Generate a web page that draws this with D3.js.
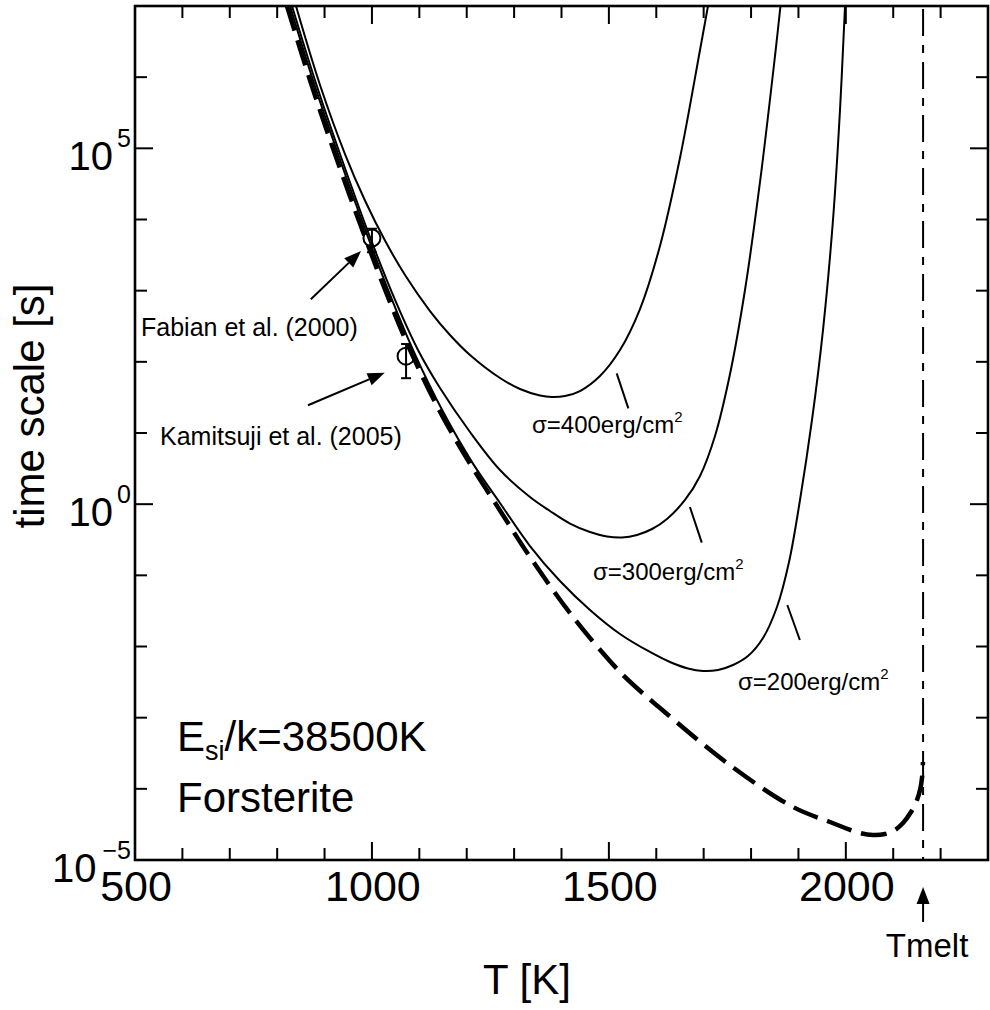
<!DOCTYPE html>
<html><head><meta charset="utf-8">
<script src="https://cdn.jsdelivr.net/npm/d3@7"></script>
<style>
body{margin:0;background:#fff}
svg text{font-family:"Liberation Sans",Arial,Helvetica,sans-serif;fill:#000}
</style>
</head><body>
<svg id="chart" width="990" height="1010"></svg>
<script>
// ---------- data (T in K, time scale as log10 seconds) ----------
const noNuclT   = [820.7,869.3,922.0,985.3,1038.1,1082.4,1143.6,1206.9,1270.2,1333.5,1424.3,1523.4,1580.4,1607.8,1749.2,1888.5,1966.6,2029.9,2057.4,2082.6,2103.7,2120.6,2137.5,2150.2,2157.5,2160.7,2162.8];
const noNuclLog = [7.0,5.957,4.92,3.751,2.838,2.137,1.301,0.57,-0.088,-0.742,-1.585,-2.358,-2.71,-2.864,-3.637,-4.255,-4.466,-4.621,-4.649,-4.635,-4.578,-4.48,-4.326,-4.157,-3.988,-3.848,-3.623];

const sigma200T   = [827.1,875.6,928.4,991.7,1044.4,1088.7,1149.9,1213.2,1270.2,1333.5,1396.8,1460.1,1523.4,1586.7,1628.9,1666.9,1698.6,1730.2,1761.9,1793.5,1825.2,1854.7,1880.1,1903.3,1928.6,1951.8,1972.9,1987.7,1998.2,2002.5];
const sigma200Log = [7.0,5.957,4.92,3.751,2.838,2.137,1.301,0.57,0.016,-0.588,-1.08,-1.487,-1.824,-2.077,-2.218,-2.309,-2.344,-2.33,-2.26,-2.134,-1.881,-1.445,-0.813,0.059,1.183,2.447,3.993,5.539,6.986,7.506];

const sigma300T   = [831.3,879.8,932.6,995.9,1050.8,1097.2,1143.6,1206.9,1270.2,1333.5,1375.7,1417.9,1460.1,1496.0,1527.7,1559.3,1591.0,1622.6,1660.6,1692.3,1723.9,1755.6,1787.2,1818.9,1850.5,1865.3];
const sigma300Log = [7.0,5.957,4.92,3.751,2.838,2.166,1.632,1.014,0.48,0.101,-0.096,-0.272,-0.391,-0.454,-0.468,-0.433,-0.349,-0.208,0.059,0.396,0.958,1.829,3.009,4.527,6.297,7.197];

const sigma400T   = [839.7,890.4,943.1,985.3,1027.5,1069.8,1122.5,1164.7,1206.9,1270.2,1312.4,1354.6,1379.9,1407.4,1439.0,1481.2,1523.4,1565.6,1607.8,1650.0,1692.3,1709.1];
const sigma400Log = [7.0,5.89,4.92,4.267,3.704,3.22,2.714,2.377,2.096,1.773,1.618,1.527,1.506,1.52,1.59,1.801,2.166,2.742,3.628,4.864,6.382,7.0];

// experimental points
const expNames = ["Fabian et al. (2000)", "Kamitsuji et al. (2005)"];
const expT      = [1000, 1072];
const expLog    = [3.74, 2.08];
const expLogLo  = [3.54, 1.77];
const expLogHi  = [3.87, 2.25];

// curve labels
const sigmaLabels = ["σ=400erg/cm", "σ=300erg/cm", "σ=200erg/cm"];
const Tmelt = 2163;
const xTickLabels = [500, 1000, 1500, 2000];
const yTickExps = [-5, 0, 5];

// ---------- layout ----------
const L = 135, R = 988, T0 = 6, B = 860;
const svg = d3.select("#chart");
const x = d3.scaleLinear().domain([500, 2300]).range([L, R]);
const y = d3.scaleLog().domain([1e-5, 1e7]).range([B, T0]);
const P = v => Math.pow(10, v);

svg.append("defs").append("clipPath").attr("id","clip")
  .append("rect").attr("x",L).attr("y",T0).attr("width",R-L).attr("height",B-T0);

const g = svg.append("g").attr("clip-path","url(#clip)");
const line = d3.line().x(d=>x(d[0])).y(d=>y(P(d[1]))).curve(d3.curveCatmullRom.alpha(0.5));

function series(Ts, Ls){ return Ts.map((t,i)=>[t, Ls[i]]); }

[[sigma400T,sigma400Log],[sigma300T,sigma300Log],[sigma200T,sigma200Log]].forEach(([a,b])=>{
  g.append("path").attr("d", line(series(a,b))).attr("fill","none")
   .attr("stroke","#000").attr("stroke-width",2);
});
g.append("path").attr("d", line(series(noNuclT,noNuclLog))).attr("fill","none")
 .attr("stroke","#000").attr("stroke-width",4.5).attr("stroke-dasharray","26 10");

// Tmelt dash-dot
g.append("line").attr("x1",x(Tmelt)).attr("x2",x(Tmelt)).attr("y1",y(1e7)+3).attr("y2",B)
 .attr("stroke","#000").attr("stroke-width",2).attr("stroke-dasharray","27 9 8 9");

// experimental points
expT.forEach((t,i)=>{
  const cx = x(t), cy = y(P(expLog[i]));
  const yl = y(P(expLogLo[i])), yh = y(P(expLogHi[i]));
  svg.append("line").attr("x1",cx).attr("x2",cx).attr("y1",yh).attr("y2",yl).attr("stroke","#000").attr("stroke-width",2);
  [yl,yh].forEach(yy=>svg.append("line").attr("x1",cx-5).attr("x2",cx+5).attr("y1",yy).attr("y2",yy).attr("stroke","#000").attr("stroke-width",2));
  svg.append("circle").attr("cx",cx).attr("cy",cy).attr("r",8.5).attr("fill","none").attr("stroke","#000").attr("stroke-width",2);
});

// arrows (data coords)
const arrowTailT = [871, 865], arrowTailLog = [2.88, 1.39];
const arrowTipT  = [977, 1027], arrowTipLog = [3.556, 1.847];
function arrow(x1,y1,x2,y2){
  const ang = Math.atan2(y2-y1, x2-x1), len = 17, w = 6.5;
  const bx = x2 - len*Math.cos(ang), by = y2 - len*Math.sin(ang);
  svg.append("line").attr("x1",x1).attr("y1",y1).attr("x2",bx).attr("y2",by).attr("stroke","#000").attr("stroke-width",2);
  const px = -Math.sin(ang)*w, py = Math.cos(ang)*w;
  svg.append("path").attr("d",`M${x2},${y2}L${bx+px},${by+py}L${bx-px},${by-py}Z`).attr("fill","#000");
}
arrowTailT.forEach((t,i)=>arrow(x(t), y(P(arrowTailLog[i])), x(arrowTipT[i]), y(P(arrowTipLog[i]))));
arrow(x(Tmelt), B+62, x(Tmelt), B+27);

// experiment labels
const expLabelT = [512.7, 552.8], expLabelLog = [2.363, 0.831];
expNames.forEach((n,i)=>svg.append("text").attr("x",x(expLabelT[i])).attr("y",y(P(expLabelLog[i])))
  .attr("font-size",25).text(n));

// sigma labels and pointer lines
const sigLabT = [1337.7, 1466.5, 1772.4], sigLabLog = [1.0, -1.066, -2.611];
const ptrT1 = [1516.5, 1671, 1876.5], ptrLog1 = [1.838, -0.04, -1.417];
const ptrT2 = [1541, 1696, 1903],     ptrLog2 = [1.346, -0.541, -1.909];
sigmaLabels.forEach((s,i)=>{
  const t = svg.append("text").attr("x",x(sigLabT[i])).attr("y",y(P(sigLabLog[i]))).attr("font-size",24).text(s);
  t.append("tspan").attr("dy",-11).attr("font-size",15).text("2");
  svg.append("line").attr("x1",x(ptrT1[i])).attr("y1",y(P(ptrLog1[i]))).attr("x2",x(ptrT2[i])).attr("y2",y(P(ptrLog2[i])))
    .attr("stroke","#000").attr("stroke-width",2);
});

// parameter text
const t1 = svg.append("text").attr("x",x(588.6)).attr("y",y(P(-3.468))).attr("font-size",42).text("E");
t1.append("tspan").attr("font-size",27).attr("dy",9).text("si");
t1.append("tspan").attr("dy",-9).text("/k=38500K");
svg.append("text").attr("x",x(588.6)).attr("y",y(P(-4.326))).attr("font-size",42).text("Forsterite");

// ---------- axes ----------
const ax = svg.append("g").attr("stroke","#000").attr("stroke-width",2);
for(let v=500; v<=2300; v+=100){
  const major = xTickLabels.includes(v);
  const len = major ? 18 : 12;
  if (v>500 && v<2300){
    ax.append("line").attr("x1",x(v)).attr("x2",x(v)).attr("y1",B).attr("y2",B-len);
    ax.append("line").attr("x1",x(v)).attr("x2",x(v)).attr("y1",T0).attr("y2",T0+len);
  }
}
y.ticks().forEach(v=>{
  const e = Math.log10(v), isDec = Math.abs(e-Math.round(e))<1e-9;
  let len = 6;
  if (isDec) len = yTickExps.includes(Math.round(e)) ? 18 : 12;
  if (v>1e-5 && v<1e7){
    ax.append("line").attr("x1",L).attr("x2",L+len).attr("y1",y(v)).attr("y2",y(v));
    ax.append("line").attr("x1",R).attr("x2",R-len).attr("y1",y(v)).attr("y2",y(v));
  }
});
svg.append("rect").attr("x",L).attr("y",T0).attr("width",R-L).attr("height",B-T0)
  .attr("fill","none").attr("stroke","#000").attr("stroke-width",2.6);

xTickLabels.forEach(v=>svg.append("text").attr("x",x(v)+1).attr("y",B+41).attr("text-anchor","middle")
  .attr("font-size",43).text(v));
yTickExps.forEach(e=>{
  const t = svg.append("text").attr("x",L-4).attr("y",y(P(e))+22).attr("text-anchor","end").attr("font-size",40).text("10");
  t.append("tspan").attr("dx",e<0 ? 6 : 4).attr("dy",-23).attr("font-size",25).text(e<0 ? "−"+(-e) : String(e));
});

svg.append("text").attr("x",x(Tmelt)+4).attr("y",B+97).attr("text-anchor","middle").attr("font-size",33).text("Tmelt");
svg.append("text").attr("x",527).attr("y",994).attr("text-anchor","middle").attr("font-size",42).text("T [K]");
svg.append("text").attr("transform","translate(44,406) rotate(-90)").attr("text-anchor","middle").attr("font-size",42).text("time scale [s]");
</script>
</body></html>
